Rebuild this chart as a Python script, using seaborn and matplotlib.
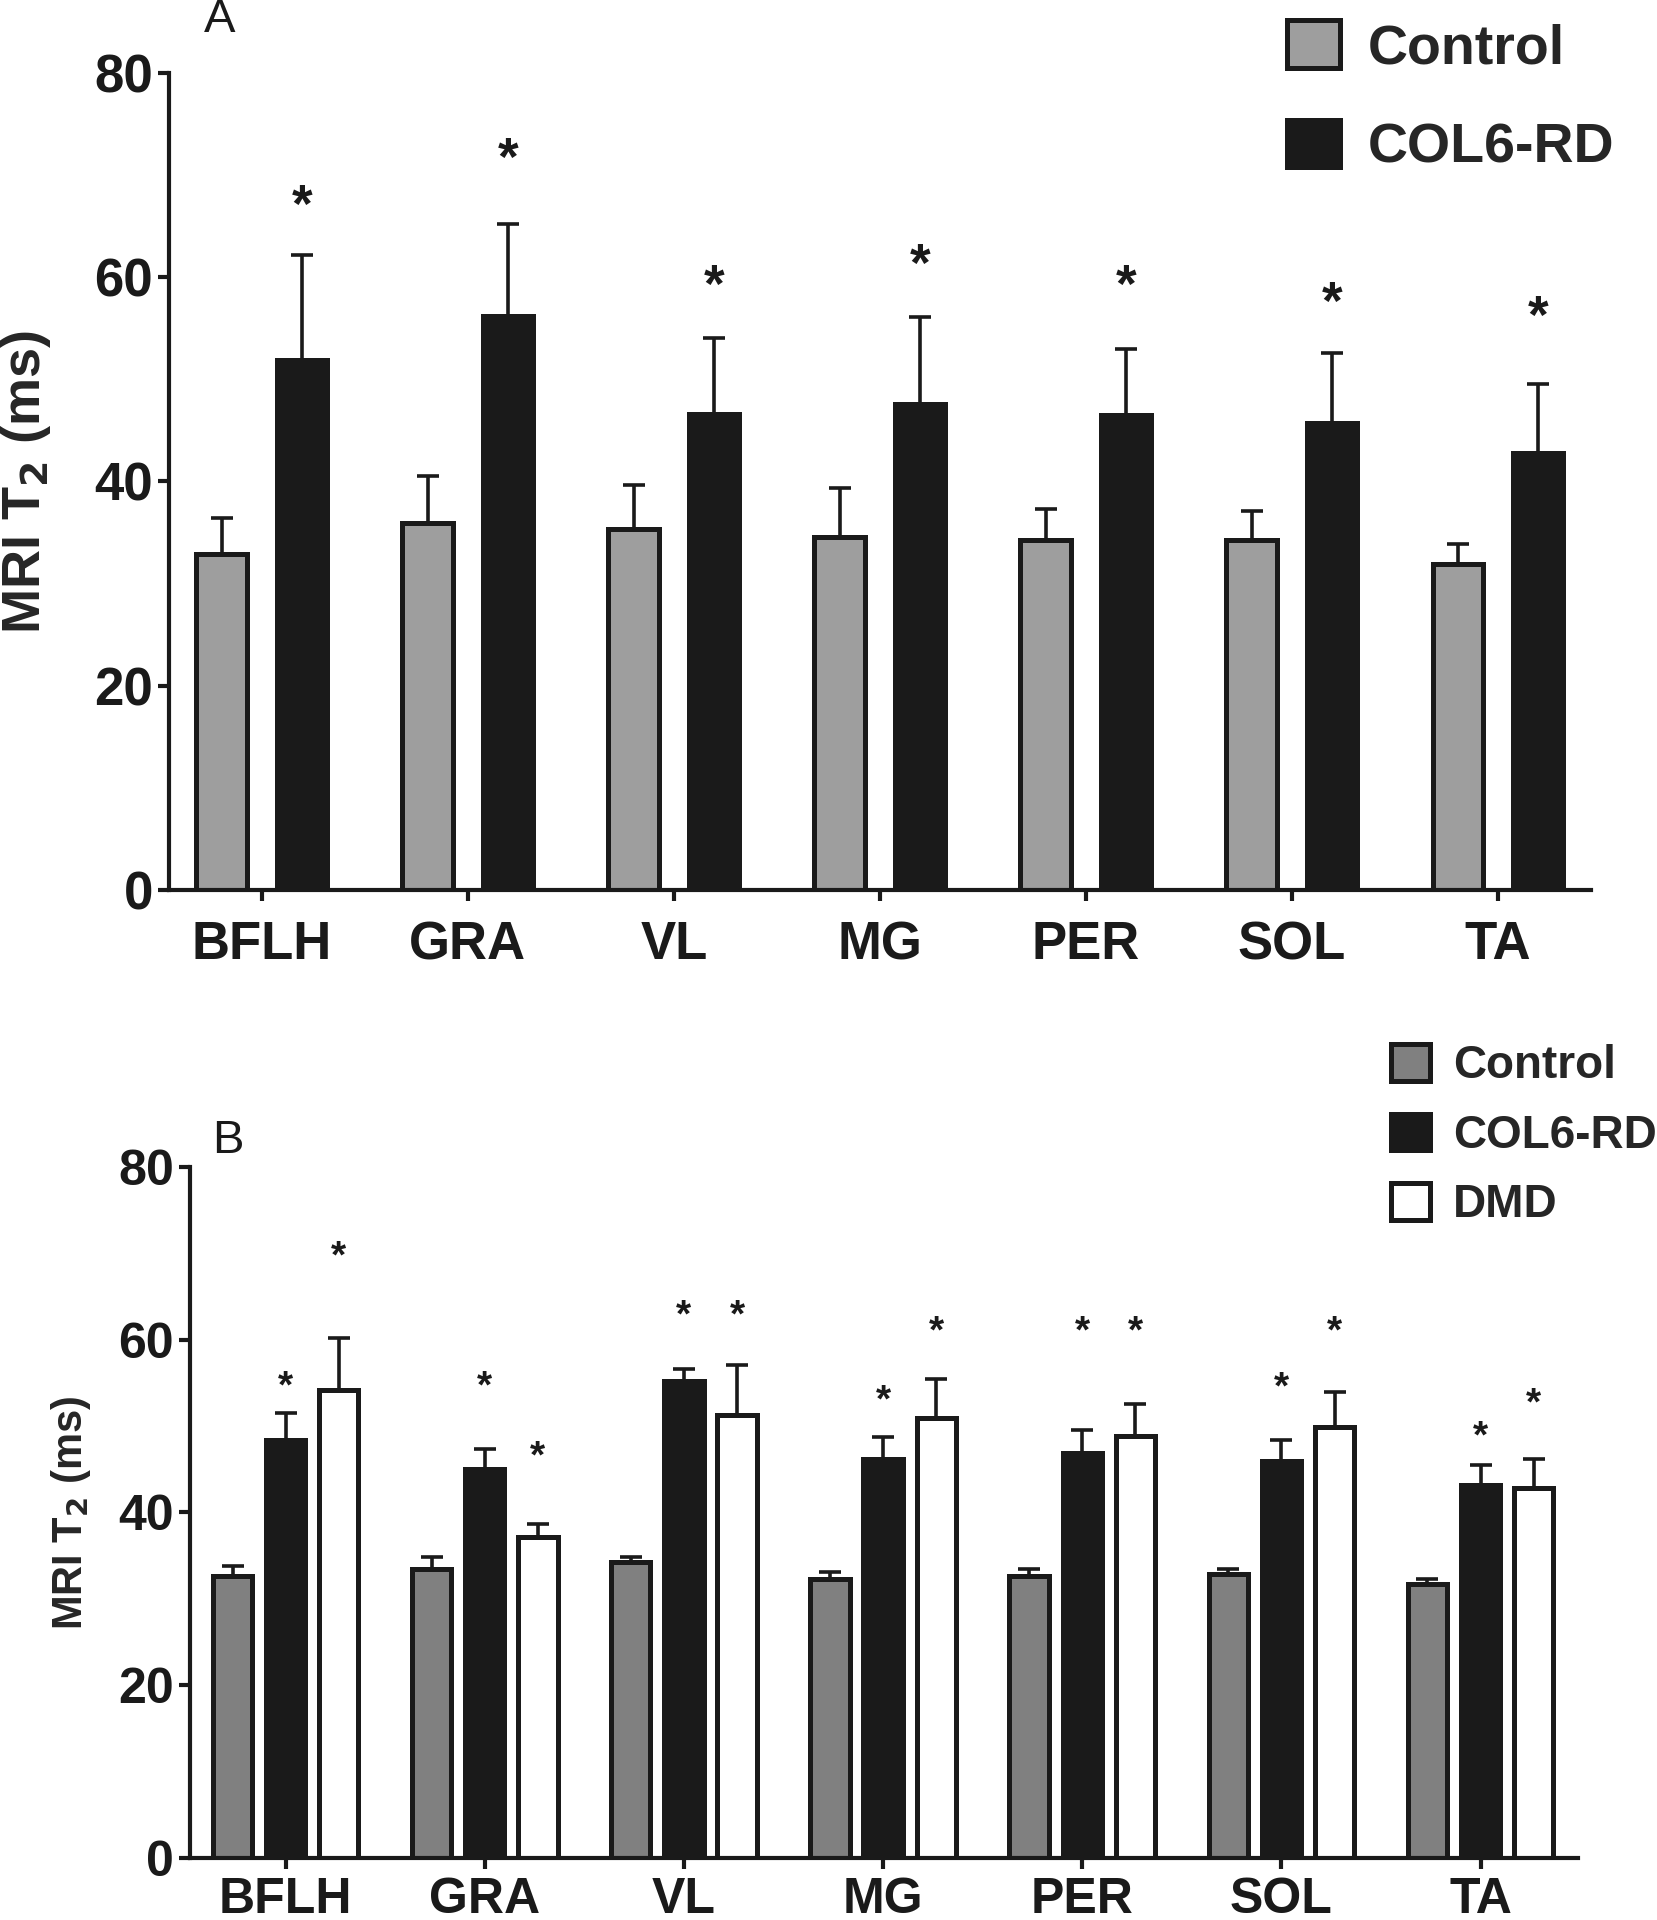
import matplotlib
matplotlib.use("Agg")
import matplotlib.pyplot as plt
from matplotlib.patches import Patch
import pandas as pd
import seaborn as sns

muscles = ["BFLH", "GRA", "VL", "MG", "PER", "SOL", "TA"]

# panel A: mean, SD (upper bar only), asterisk height
a_control = [32.9, 35.9, 35.3, 34.6, 34.3, 34.3, 31.9]
a_control_sd = [3.5, 4.6, 4.4, 4.8, 3.0, 2.8, 2.0]
a_col6 = [51.9, 56.2, 46.6, 47.6, 46.5, 45.7, 42.8]
a_col6_sd = [10.3, 9.0, 7.4, 8.5, 6.5, 6.9, 6.7]
a_col6_star = [66.8, 71.4, 58.9, 61.0, 58.9, 57.3, 55.9]

# panel B
b_control = [32.6, 33.4, 34.3, 32.3, 32.6, 32.9, 31.7]
b_control_sd = [1.2, 1.5, 0.6, 0.8, 0.8, 0.5, 0.6]
b_col6 = [48.4, 45.0, 55.2, 46.2, 46.9, 46.0, 43.2]
b_col6_sd = [3.1, 2.4, 1.4, 2.5, 2.7, 2.4, 2.3]
b_dmd = [54.2, 37.2, 51.3, 50.9, 48.9, 49.9, 42.8]
b_dmd_sd = [6.0, 1.5, 5.8, 4.5, 3.7, 4.1, 3.4]
b_col6_star = [54.5, 54.5, 62.7, 52.8, 60.8, 54.3, 48.7]
b_dmd_star = [69.5, 46.4, 62.7, 60.8, 60.8, 60.8, 52.5]

EDGE = "#1a1a1a"

sns.set_style("ticks")
plt.rcParams["font.family"] = ["Liberation Sans", "DejaVu Sans"]
plt.rcParams["font.weight"] = "bold"


def long_df(groups):
    rows = []
    for name, vals in groups:
        for m, v in zip(muscles, vals):
            rows.append({"muscle": m, "group": name, "t2": v})
    return pd.DataFrame(rows)


def draw_panel(ax, groups, sds, stars, colors, width, gap, star_size, tick_size, pad):
    df = long_df(groups)
    names = [g[0] for g in groups]
    sns.barplot(data=df, x="muscle", y="t2", hue="group", hue_order=names,
                palette=colors, saturation=1, errorbar=None, width=width, gap=gap,
                edgecolor=EDGE, linewidth=3.6, legend=False, ax=ax)
    for cont, sd, st in zip(ax.containers, sds, stars):
        xs = [b.get_x() + b.get_width() / 2 for b in cont]
        hs = [b.get_height() for b in cont]
        ax.errorbar(xs, hs, yerr=[[0] * len(sd), sd], fmt="none", ecolor=EDGE,
                    elinewidth=2.6, capsize=8, capthick=2.6, zorder=1)
        if st is not None:
            for x, y in zip(xs, st):
                ax.text(x, y, "*", ha="center", va="center", fontsize=star_size,
                        fontweight="bold", color=EDGE)
    ax.set_ylim(0, 80)
    ax.set_yticks([0, 20, 40, 60, 80])
    ax.set_xlabel("")
    sns.despine(ax=ax)
    for s in ["left", "bottom"]:
        ax.spines[s].set_linewidth(3)
        ax.spines[s].set_color(EDGE)
    ax.tick_params(axis="both", width=3, length=8, color=EDGE, labelsize=tick_size,
                   labelcolor=EDGE)
    ax.tick_params(axis="x", pad=pad)
    for lab in ax.get_xticklabels() + ax.get_yticklabels():
        lab.set_fontweight("bold")


fig = plt.figure(figsize=(16.57, 19.2), dpi=100)

ax_a = fig.add_axes([0.102, 0.5365, 0.858, 0.4255])
draw_panel(ax_a, [("Control", a_control), ("COL6-RD", a_col6)],
           [a_control_sd, a_col6_sd], [None, a_col6_star],
           ["#9e9e9e", "#1a1a1a"], 0.78, 0.37, 38, 38, 14)
ax_a.set_xlim(-0.45, 6.45)
ax_a.set_ylabel("MRI T$_\\mathbf{2}$ (ms)", fontsize=39, fontweight="bold", labelpad=30)

ax_b = fig.add_axes([0.1147, 0.0323, 0.8377, 0.3599])
draw_panel(ax_b, [("Control", b_control), ("COL6-RD", b_col6), ("DMD", b_dmd)],
           [b_control_sd, b_col6_sd, b_dmd_sd], [None, b_col6_star, b_dmd_star],
           ["#808080", "#1a1a1a", "#ffffff"], 0.8, 0.26, 28, 36, 6)
ax_b.set_xlim(-0.48, 6.49)
ax_b.set_ylabel("MRI T$_\\mathbf{2}$ (ms)", fontsize=30, fontweight="bold", labelpad=18)

fig.text(220 / 1657, 1 - 20 / 1920, "A", fontsize=34, fontweight="normal",
         ha="center", va="center", color=EDGE)
fig.text(228 / 1657, 1 - 1141 / 1920, "B", fontsize=34, fontweight="normal",
         ha="center", va="center", color=EDGE)

handles_a = [Patch(facecolor="#9e9e9e", edgecolor=EDGE, linewidth=3.6, label="Control"),
             Patch(facecolor="#1a1a1a", edgecolor=EDGE, linewidth=3.6, label="COL6-RD")]
fig.legend(handles=handles_a, loc="upper left", bbox_to_anchor=(1237 / 1657, 1 + 30 / 1920),
           frameon=False, handlelength=0.95, handleheight=0.95,
           labelspacing=0.8, handletextpad=0.5, prop={"weight": "bold", "size": 40})

handles_b = [Patch(facecolor="#808080", edgecolor=EDGE, linewidth=3.6, label="Control"),
             Patch(facecolor="#1a1a1a", edgecolor=EDGE, linewidth=3.6, label="COL6-RD"),
             Patch(facecolor="#ffffff", edgecolor=EDGE, linewidth=3.6, label="DMD")]
fig.legend(handles=handles_b, loc="upper left", bbox_to_anchor=(1350 / 1657, 1 - 1003 / 1920),
           frameon=False, handlelength=0.85, handleheight=0.85,
           labelspacing=0.55, handletextpad=0.5, prop={"weight": "bold", "size": 33})

fig.savefig("out.png", dpi=100)
